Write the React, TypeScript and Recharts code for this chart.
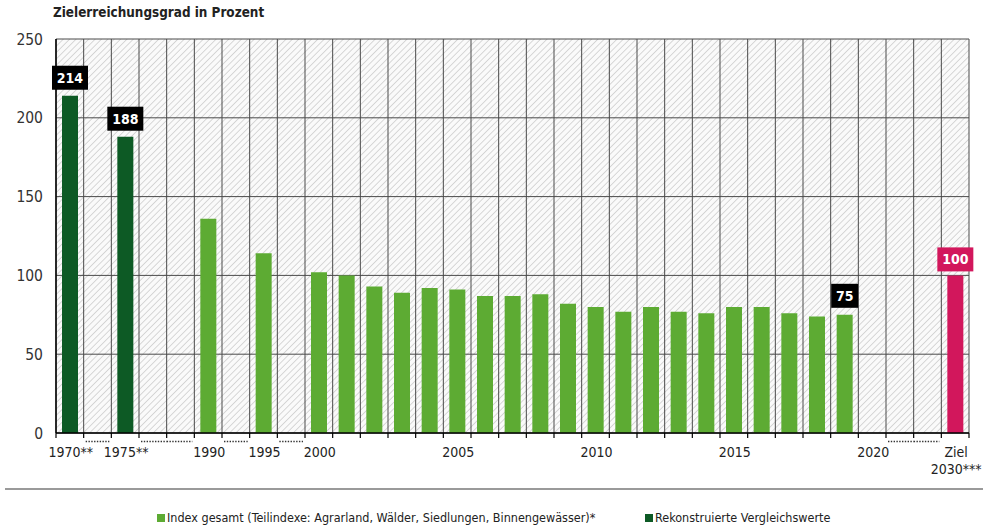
import { BarChart, Bar, XAxis, YAxis, CartesianGrid, LabelList } from 'recharts'

const FONT = "'DejaVu Sans Condensed', 'Liberation Sans Narrow', sans-serif"

// x slots, in order; "gap" slots are empty years left out of the series
const categories = [
  '1970', 'gap1', '1975', 'gap2', 'gap3', '1990', 'gap4', '1995', 'gap5',
  '2000', '2001', '2002', '2003', '2004', '2005', '2006', '2007', '2008', '2009',
  '2010', '2011', '2012', '2013', '2014', '2015', '2016', '2017', '2018', '2019',
  '2020', 'gap6', 'gap7', 'Ziel',
]
const gapSlots = ['gap1', 'gap2', 'gap3', 'gap4', 'gap5', 'gap6', 'gap7']

const reconstructedYears = ['1970', '1975']
const reconstructedValues = [214, 188]

const indexYears = [
  '1990', '1995', '2000', '2001', '2002', '2003', '2004', '2005', '2006', '2007',
  '2008', '2009', '2010', '2011', '2012', '2013', '2014', '2015', '2016', '2017', '2018', '2019',
]
const indexValues = [136, 114, 102, 100, 93, 89, 92, 91, 87, 87, 88, 82, 80, 77, 80, 77, 76, 80, 80, 76, 74, 75]

const goalSlot = 'Ziel'
const goalValue = 100

const labelledSlots = ['1970', '1975', '2019', 'Ziel']

const tickLabels: Record<string, string[]> = {
  '1970': ['1970**'],
  '1975': ['1975**'],
  '1990': ['1990'],
  '1995': ['1995'],
  '2000': ['2000'],
  '2005': ['2005'],
  '2010': ['2010'],
  '2015': ['2015'],
  '2020': ['2020'],
  Ziel: ['Ziel', '2030***'],
}
const yTicks = [0, 50, 100, 150, 200, 250]

const LIGHT = '#5dab33'
const DARK = '#0d5a25'
const PINK = '#d2175c'

const data = categories.map(cat => {
  const r = reconstructedYears.indexOf(cat)
  const i = indexYears.indexOf(cat)
  return {
    cat,
    dark: r >= 0 ? reconstructedValues[r] : null,
    light: i >= 0 ? indexValues[i] : null,
    goal: cat === goalSlot ? goalValue : null,
  }
})

const W = 985
const H = 525
const M = { top: 39, right: 16, bottom: 42, left: 0 }
const Y_W = 56
const PLOT_L = M.left + Y_W
const PLOT_R = W - M.right
const colW = (PLOT_R - PLOT_L) / categories.length

function XTick(props: any) {
  const { x, y, payload, index } = props
  const cat = payload.value as string
  const lines = tickLabels[cat] || []
  const left = x - colW / 2
  const right = x + colW / 2
  const isGap = gapSlots.includes(cat)
  const prevGap = index > 0 && gapSlots.includes(categories[index - 1])
  const nextGap = index < categories.length - 1 && gapSlots.includes(categories[index + 1])
  return (
    <g>
      <line x1={left} x2={left} y1={y} y2={y + 5} stroke="#000" strokeWidth={1.2} />
      {index === categories.length - 1 && (
        <line x1={right} x2={right} y1={y} y2={y + 5} stroke="#000" strokeWidth={1.2} />
      )}
      {isGap && (
        <line
          x1={left + (prevGap ? 0 : 2)}
          x2={right - (nextGap ? 0 : 2)}
          y1={y + 8.5}
          y2={y + 8.5}
          stroke="#333"
          strokeWidth={1.6}
          strokeDasharray="1.4 1.4"
        />
      )}
      {lines.map((t, k) => (
        <text key={k} x={x + 1} y={y + 24 + k * 17} textAnchor="middle" fontSize={14} fill="#222" fontFamily={FONT}>
          {t}
        </text>
      ))}
    </g>
  )
}

function boxLabel(series: 'dark' | 'light' | 'goal', fill: string, gap: number) {
  return (props: any) => {
    const { x, y, width } = props
    const cx = x + width / 2
    const slot = Math.floor((cx - PLOT_L) / colW)
    const row: any = data[slot]
    if (!row || row[series] == null || !labelledSlots.includes(row.cat)) return null
    const text = String(row[series])
    const w = text.length * 9 + 9
    const h = 24
    return (
      <g>
        <rect x={cx - w / 2} y={y - gap - h} width={w} height={h} fill={fill} />
        <text
          x={cx}
          y={y - gap - h / 2}
          dy="0.36em"
          textAnchor="middle"
          fill="#fff"
          fontWeight="bold"
          fontSize={14}
          fontFamily={FONT}
        >
          {text}
        </text>
      </g>
    )
  }
}

export default function App() {
  return (
    <div style={{ position: 'absolute', left: 0, top: 0, width: W, height: H, background: '#fff', fontFamily: FONT }}>
      <div style={{ position: 'absolute', left: 53, top: 5, fontSize: 13.4, fontWeight: 'bold', color: '#222' }}>
        Zielerreichungsgrad in Prozent
      </div>
      <BarChart width={W} height={H} data={data} margin={M} barSize={16}>
        <defs>
          <pattern id="hatch" patternUnits="userSpaceOnUse" width={4.5} height={4.5} patternTransform="rotate(45)">
            <rect width={4.5} height={4.5} fill="#fafafa" />
            <line x1={0} y1={0} x2={0} y2={4.5} stroke="#c4c4c4" strokeWidth={1.3} />
          </pattern>
        </defs>
        <CartesianGrid
          fill="url(#hatch)"
          fillOpacity={1}
          stroke="#4a4a4a"
          strokeWidth={1}
          verticalCoordinatesGenerator={(p: any) => {
            const left = p?.offset?.left ?? PLOT_L
            const width = p?.offset?.width ?? PLOT_R - PLOT_L
            return categories.map((_, i) => left + (i * width) / categories.length).concat(left + width)
          }}
        />
        <XAxis
          dataKey="cat"
          interval={0}
          tickLine={false}
          tickSize={0}
          tickMargin={0}
          height={50}
          axisLine={{ stroke: '#000', strokeWidth: 1.5 }}
          tick={<XTick />}
        />
        <YAxis
          width={Y_W}
          domain={[0, 250]}
          ticks={yTicks}
          tickLine={false}
          tickSize={0}
          tickMargin={13}
          axisLine={{ stroke: '#000', strokeWidth: 1.5 }}
          tick={{ fontSize: 15.5, fill: '#333', fontFamily: FONT }}
        />
        <Bar dataKey="dark" stackId="s" fill={DARK} isAnimationActive={false}>
          <LabelList content={boxLabel('dark', '#000', 6)} />
        </Bar>
        <Bar dataKey="light" stackId="s" fill={LIGHT} isAnimationActive={false}>
          <LabelList content={boxLabel('light', '#000', 7)} />
        </Bar>
        <Bar dataKey="goal" stackId="s" fill={PINK} isAnimationActive={false}>
          <LabelList content={boxLabel('goal', PINK, 4)} />
        </Bar>
      </BarChart>
      <div style={{ position: 'absolute', left: 5, top: 488, width: 978, height: 2, background: '#9a9a9a' }} />
      <div
        style={{
          position: 'absolute',
          top: 510,
          left: 0,
          width: W,
          fontSize: 12.5,
          color: '#222',
          lineHeight: '16px',
        }}
      >
        <span style={{ position: 'absolute', left: 157, top: 4, width: 8, height: 8, background: LIGHT }} />
        <span style={{ position: 'absolute', left: 167, whiteSpace: 'nowrap' }}>
          Index gesamt (Teilindexe: Agrarland, Wälder, Siedlungen, Binnengewässer)*
        </span>
        <span style={{ position: 'absolute', left: 645, top: 4, width: 8, height: 8, background: DARK }} />
        <span style={{ position: 'absolute', left: 655, whiteSpace: 'nowrap' }}>Rekonstruierte Vergleichswerte</span>
      </div>
    </div>
  )
}
